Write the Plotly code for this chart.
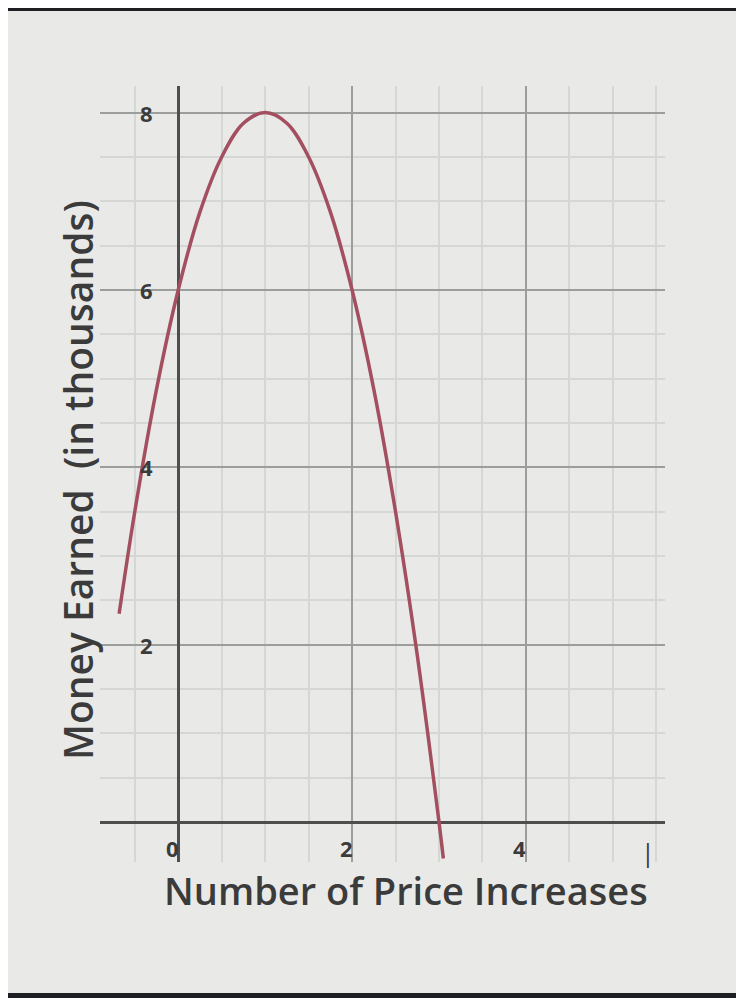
import plotly.graph_objects as go

price_increases = [-0.68, -0.5, -0.25, 0, 0.25, 0.5, 0.75, 1, 1.25, 1.5, 1.75,
                   2, 2.25, 2.5, 2.75, 3, 3.05]
money_earned = [2.35, 3.5, 4.88, 6, 6.88, 7.5, 7.88, 8, 7.88, 7.5, 6.88,
                6, 4.88, 3.5, 1.88, 0, -0.41]

x_tick_vals = [0, 2, 4]
x_tick_text = ["0", "2", "4"]
y_tick_vals = [2, 4, 6, 8]
y_tick_text = ["2", "4", "6", "8"]

COLORS = {
    'bg': '#e9eae8',
    'curve': '#a34f5f',
    'axis': '#4e4e4e',
    'major': '#9c9e9d',
    'minor': '#d5d7d5',
    'text': '#3b3b3b',
    'frame': '#1e1f22',
}
FONT = "Open Sans"

fig = go.Figure()

fig.add_trace(
    go.Scatter(
        x=price_increases,
        y=money_earned,
        mode='lines',
        line=dict(color=COLORS['curve'], width=3.5, shape='spline'),
        showlegend=False,
        hoverinfo='skip'
    )
)

annotations = []
# y tick labels sit just left of the vertical axis
for val, txt in zip(y_tick_vals, y_tick_text):
    annotations.append(dict(
        x=-0.36, y=val, xref='x', yref='y', text=txt, showarrow=False,
        font=dict(family=FONT, size=22, color=COLORS['text'], weight='bold'),
        xanchor='center', yanchor='middle'
    ))
# x tick labels sit just under the horizontal axis
for val, txt in zip(x_tick_vals, x_tick_text):
    annotations.append(dict(
        x=val, y=-0.29, xref='x', yref='y', text=txt, showarrow=False,
        font=dict(family=FONT, size=22, color=COLORS['text'], weight='bold'),
        xanchor='center', yanchor='middle', xshift=-6
    ))
annotations.append(dict(
    x=5.4, y=-0.34, xref='x', yref='y', text="|", showarrow=False,
    font=dict(family=FONT, size=25, color=COLORS['text']),
    xanchor='center', yanchor='middle'
))
# axis titles
annotations.append(dict(
    x=0.5416, y=-0.036, xref='paper', yref='paper',
    text="Number of Price Increases", showarrow=False,
    font=dict(family=FONT, size=38, color=COLORS['text'], weight=600),
    xanchor='center', yanchor='middle'
))
annotations.append(dict(
    x=-0.041, y=0.492, xref='paper', yref='paper',
    text="Money Earned&nbsp;&nbsp;(in thousands)", showarrow=False,
    textangle=-90,
    font=dict(family=FONT, size=39, color=COLORS['text'], weight=600),
    xanchor='center', yanchor='middle'
))

fig.update_layout(
    width=744,
    height=998,
    margin=dict(l=92, r=87, t=78, b=144),
    plot_bgcolor=COLORS['bg'],
    paper_bgcolor=COLORS['bg'],
    annotations=annotations,
    shapes=[
        # dark screen edges at the top and bottom of the photo
        dict(type='rect', xref='paper', yref='paper', x0=-0.2, x1=1.2,
             y0=1.0966, y1=1.11, fillcolor=COLORS['frame'], line_width=0,
             layer='above'),
        dict(type='rect', xref='paper', yref='paper', x0=-0.2, x1=1.2,
             y0=-0.18, y1=-0.1688, fillcolor=COLORS['frame'], line_width=0,
             layer='above'),
    ]
)

fig.update_xaxes(
    range=[-0.9, 5.6],
    tick0=0, dtick=2,
    showgrid=True, gridcolor=COLORS['major'], gridwidth=2,
    minor=dict(tick0=0, dtick=0.5, showgrid=True,
               gridcolor=COLORS['minor'], gridwidth=2),
    zeroline=True, zerolinecolor=COLORS['axis'], zerolinewidth=3,
    showticklabels=False, ticks='', showline=False, fixedrange=True
)
fig.update_yaxes(
    range=[-0.45, 8.3],
    tick0=0, dtick=2,
    showgrid=True, gridcolor=COLORS['major'], gridwidth=2,
    minor=dict(tick0=0, dtick=0.5, showgrid=True,
               gridcolor=COLORS['minor'], gridwidth=2),
    zeroline=True, zerolinecolor=COLORS['axis'], zerolinewidth=3,
    showticklabels=False, ticks='', showline=False, fixedrange=True
)

fig.write_html("out.html")
